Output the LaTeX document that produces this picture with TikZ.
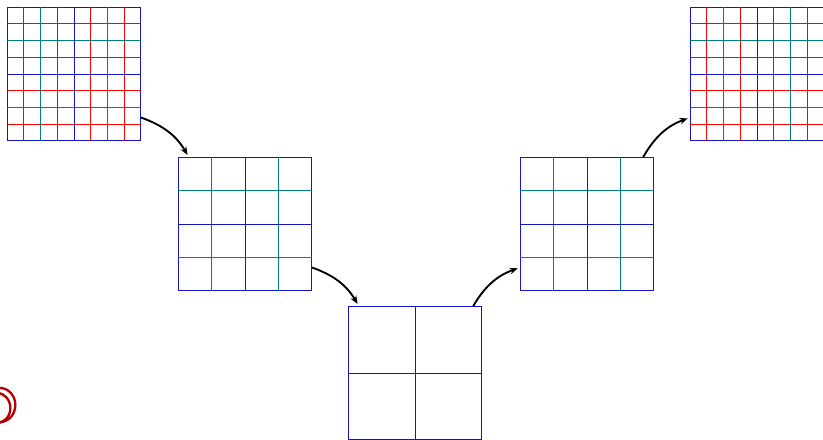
\documentclass[tikz,border=0pt]{standalone}
\usepackage{xcolor}
\usepackage{tikz}
\usetikzlibrary{arrows.meta,calc}
\definecolor{gridblue}{RGB}{20,20,200}
\definecolor{scribred}{RGB}{180,0,0}

\begin{document}
\begin{tikzpicture}[x=0.03cm,y=0.03cm,
        gridbox/.style={draw=gridblue,line width=0.6pt,minimum size=4cm,inner sep=0pt},
        fineline/.style={red,line width=0.6pt},
        midline/.style={teal,line width=0.6pt},
        coarseline/.style={gridblue,line width=0.6pt},
        restrict/.style={-{Stealth[length=7pt,width=5.5pt]},line width=1.6pt,bend left=20,shorten >=2pt}]
            \useasboundingbox (0,0) rectangle (823,439);
            \foreach \n/\x/\y in {g1/74/365,g2/245/215,g3/415/66,g4/587/215,g5/757/365} {
                    \node[gridbox] (\n) at (\x,\y) {};
                }
            % finest level
            \foreach \n in {g1,g5} {
                    \foreach \i in {1,3,5,7} {
                            \draw[fineline] ($(\n.south west)!\i/8!(\n.south east)$) -- ($(\n.north west)!\i/8!(\n.north east)$);
                            \draw[fineline] ($(\n.south west)!\i/8!(\n.north west)$) -- ($(\n.south east)!\i/8!(\n.north east)$);
                        }
                }
            % middle level
            \foreach \n in {g1,g2,g4,g5} {
                    \foreach \i in {1,3} {
                            \draw[midline] ($(\n.south west)!\i/4!(\n.south east)$) -- ($(\n.north west)!\i/4!(\n.north east)$);
                            \draw[midline] ($(\n.south west)!\i/4!(\n.north west)$) -- ($(\n.south east)!\i/4!(\n.north east)$);
                        }
                }
            % coarse level
            \foreach \n in {g1,g2,g3,g4,g5} {
                    \draw[coarseline] (\n.south) -- (\n.north);
                    \draw[coarseline] (\n.west) -- (\n.east);
                }
            \draw[restrict] (g1.-33) to (g2.130);
            \draw[restrict] (g2.-33) to (g3.130);
            \draw[restrict] (g3.49) to (g4.213);
            \draw[restrict] (g4.50) to (g5.213);
            \draw[scribred,line width=2pt] (0,34) ellipse [x radius=0.46cm,y radius=0.51cm];
            \draw[scribred,line width=2pt] (-3,31) ellipse [x radius=0.4cm,y radius=0.45cm];
        \end{tikzpicture}
\end{document}
